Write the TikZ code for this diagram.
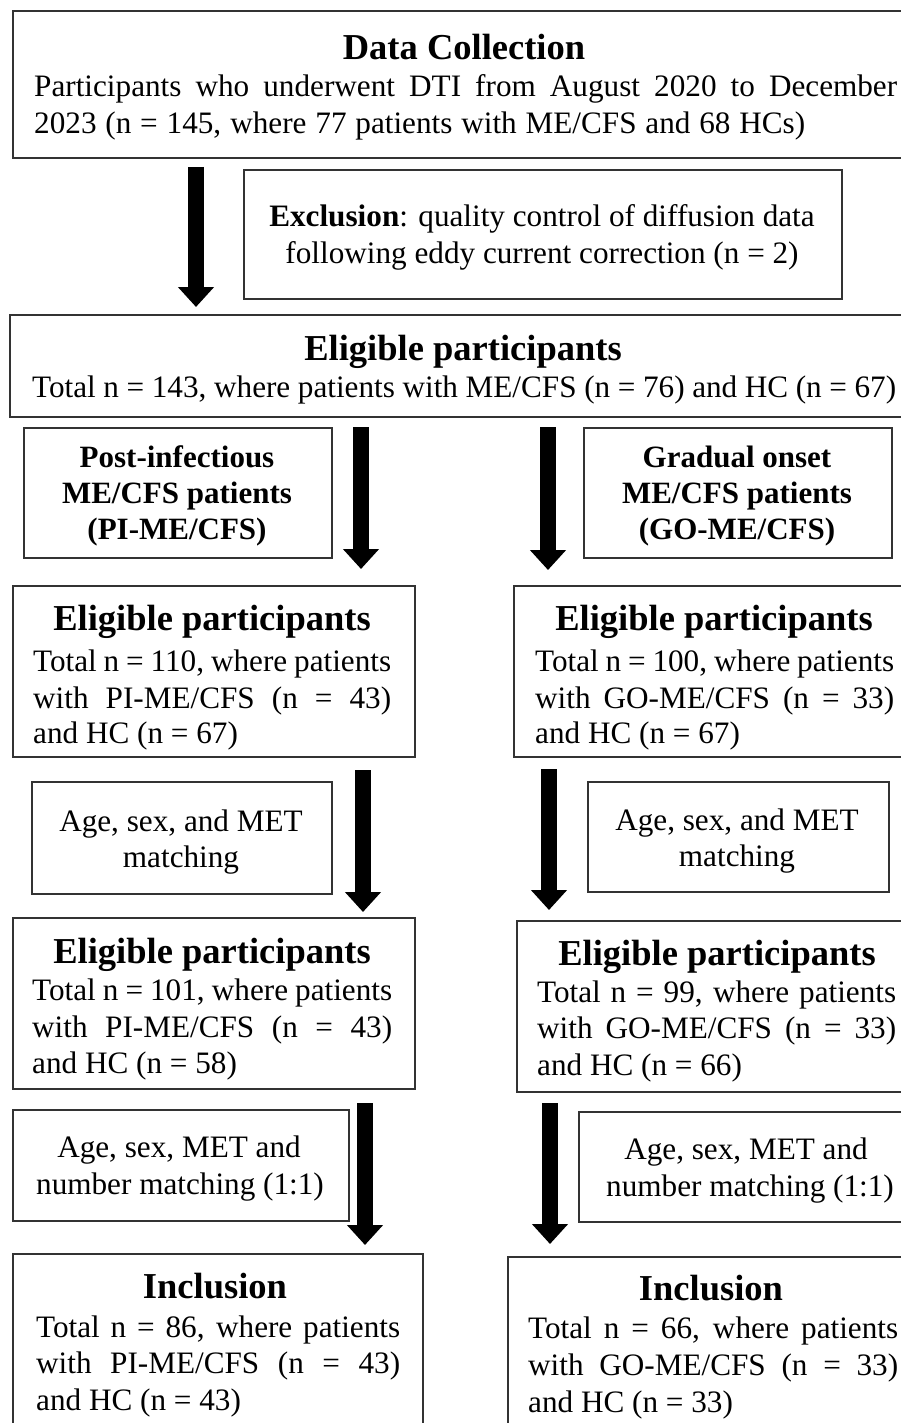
\documentclass[tikz,border=0pt]{standalone}
\usepackage{fontspec}
\setmainfont{Liberation Serif}
\usetikzlibrary{arrows.meta}
\tikzset{
  box/.style={draw=black!80, line width=1.6pt, inner sep=0pt, anchor=north west},
  body/.style={font=\fontsize{31.2}{36}\selectfont, inner sep=0pt},
  ttl/.style={font=\fontsize{36.5}{42}\selectfont\bfseries, inner sep=0pt, anchor=base},
  sbold/.style={font=\fontsize{31}{36}\selectfont\bfseries, inner sep=0pt, anchor=base},
  arr/.style={line width=16pt, -{Triangle[width=35pt,length=20pt]}},
}
\begin{document}
\begin{tikzpicture}[x=1pt,y=-1pt]
\useasboundingbox (0,0) rectangle (901,1423);
\fill[white] (0,0) rectangle (901,1423);

% boxes
\node[box, minimum width=906pt, minimum height=147pt] (b1) at (12,10) {};
\node[box, minimum width=598pt, minimum height=129pt] (excl) at (243,169) {};
\node[box, minimum width=910pt, minimum height=102pt] (b2) at (9,314) {};
\node[box, minimum width=308pt, minimum height=130pt] (pi) at (23,427) {};
\node[box, minimum width=308pt, minimum height=130pt] (go) at (583,427) {};
\node[box, minimum width=402pt, minimum height=171pt] (eligL1) at (12,585) {};
\node[box, minimum width=403pt, minimum height=171pt] (eligR1) at (513,585) {};
\node[box, minimum width=300pt, minimum height=112pt] (ageL1) at (31,781) {};
\node[box, minimum width=301pt, minimum height=110pt] (ageR1) at (587,781) {};
\node[box, minimum width=402pt, minimum height=171pt] (eligL2) at (12,917) {};
\node[box, minimum width=400pt, minimum height=171pt] (eligR2) at (516,920) {};
\node[box, minimum width=336pt, minimum height=111pt] (ageL2) at (12,1109) {};
\node[box, minimum width=340pt, minimum height=110pt] (ageR2) at (578,1111) {};
\node[box, minimum width=410pt, minimum height=200pt] (inclL) at (12,1253) {};
\node[box, minimum width=408pt, minimum height=200pt] (inclR) at (507,1256) {};

% texts: data collection
\node[ttl] (t1) at (464,60) {Data Collection};
\node[body, anchor=base west] (t1a) at (34,97) {\makebox[863pt][s]{Participants who underwent DTI from August 2020 to December}};
\node[body, anchor=base west] (t1b) at (34,134) {\makebox[771pt][s]{2023 (n = 145, where 77 patients with ME/CFS and 68 HCs)}};

% exclusion
\node[body, anchor=base] (tea) at (542,227) {\textbf{Exclusion}: quality control of diffusion data};
\node[body, anchor=base] (teb) at (542,264) {following eddy current correction (n = 2)};

% eligible all
\node[ttl] (t2) at (463,360) {Eligible participants};
\node[body, anchor=base west] (t2a) at (32,397) {\makebox[864pt][s]{Total n = 143, where patients with ME/CFS (n = 76) and HC (n = 67)}};

% PI / GO
\node[sbold] (tpa) at (177,467) {Post-infectious};
\node[sbold] (tpb) at (177,503) {ME/CFS patients};
\node[sbold] (tpc) at (177,539) {(PI-ME/CFS)};
\node[sbold] (tga) at (737,467) {Gradual onset};
\node[sbold] (tgb) at (737,503) {ME/CFS patients};
\node[sbold] (tgc) at (737,539) {(GO-ME/CFS)};

% eligible L1 / R1
\node[ttl] (tl1) at (212,630) {Eligible participants};
\node[body, anchor=base west] (tl1a) at (33,671) {\makebox[358pt][s]{Total n = 110, where patients}};
\node[body, anchor=base west] (tl1b) at (33,708) {\makebox[358pt][s]{with PI-ME/CFS (n = 43)}};
\node[body, anchor=base west] (tl1c) at (33,743) {and HC (n = 67)};
\node[ttl] (tr1) at (714,630) {Eligible participants};
\node[body, anchor=base west] (tr1a) at (535,671) {\makebox[359pt][s]{Total n = 100, where patients}};
\node[body, anchor=base west] (tr1b) at (535,708) {\makebox[359pt][s]{with GO-ME/CFS (n = 33)}};
\node[body, anchor=base west] (tr1c) at (535,743) {and HC (n = 67)};

% matching 1
\node[body, anchor=base] (tal1a) at (181,831) {Age, sex, and MET};
\node[body, anchor=base] (tal1b) at (181,867) {matching};
\node[body, anchor=base] (tar1a) at (737,830) {Age, sex, and MET};
\node[body, anchor=base] (tar1b) at (737,866) {matching};

% eligible L2 / R2
\node[ttl] (tl2) at (212,963) {Eligible participants};
\node[body, anchor=base west] (tl2a) at (32,1000) {\makebox[360pt][s]{Total n = 101, where patients}};
\node[body, anchor=base west] (tl2b) at (32,1037) {\makebox[360pt][s]{with PI-ME/CFS (n = 43)}};
\node[body, anchor=base west] (tl2c) at (32,1073) {and HC (n = 58)};
\node[ttl] (tr2) at (717,965) {Eligible participants};
\node[body, anchor=base west] (tr2a) at (537,1002) {\makebox[359pt][s]{Total n = 99, where patients}};
\node[body, anchor=base west] (tr2b) at (537,1038) {\makebox[359pt][s]{with GO-ME/CFS (n = 33)}};
\node[body, anchor=base west] (tr2c) at (537,1075) {and HC (n = 66)};

% matching 2
\node[body, anchor=base] (tal2a) at (179,1157) {Age, sex, MET and};
\node[body, anchor=base] (tal2b) at (180,1194) {number matching (1:1)};
\node[body, anchor=base] (tar2a) at (746,1159) {Age, sex, MET and};
\node[body, anchor=base] (tar2b) at (750,1196) {number matching (1:1)};

% inclusion
\node[ttl] (til) at (215,1298) {Inclusion};
\node[body, anchor=base west] (tila) at (36,1337) {\makebox[364pt][s]{Total n = 86, where patients}};
\node[body, anchor=base west] (tilb) at (36,1373) {\makebox[364pt][s]{with PI-ME/CFS (n = 43)}};
\node[body, anchor=base west] (tilc) at (36,1410) {and HC (n = 43)};
\node[ttl] (tir) at (711,1300) {Inclusion};
\node[body, anchor=base west] (tira) at (528,1338) {\makebox[370pt][s]{Total n = 66, where patients}};
\node[body, anchor=base west] (tirb) at (528,1375) {\makebox[370pt][s]{with GO-ME/CFS (n = 33)}};
\node[body, anchor=base west] (tirc) at (528,1412) {and HC (n = 33)};

% arrows
\coordinate (a1s) at (196,167);  \coordinate (a1e) at (196,307);
\coordinate (a2ls) at (361,427); \coordinate (a2le) at (361,569);
\coordinate (a2rs) at (548,427); \coordinate (a2re) at (548,570);
\coordinate (a3ls) at (363,770); \coordinate (a3le) at (363,912);
\coordinate (a3rs) at (549,769); \coordinate (a3re) at (549,910);
\coordinate (a4ls) at (365,1103); \coordinate (a4le) at (365,1245);
\coordinate (a4rs) at (550,1103); \coordinate (a4re) at (550,1244);
\draw[arr] (a1s) -- (a1e);
\draw[arr] (a2ls) -- (a2le);
\draw[arr] (a2rs) -- (a2re);
\draw[arr] (a3ls) -- (a3le);
\draw[arr] (a3rs) -- (a3re);
\draw[arr] (a4ls) -- (a4le);
\draw[arr] (a4rs) -- (a4re);
\end{tikzpicture}
\end{document}
